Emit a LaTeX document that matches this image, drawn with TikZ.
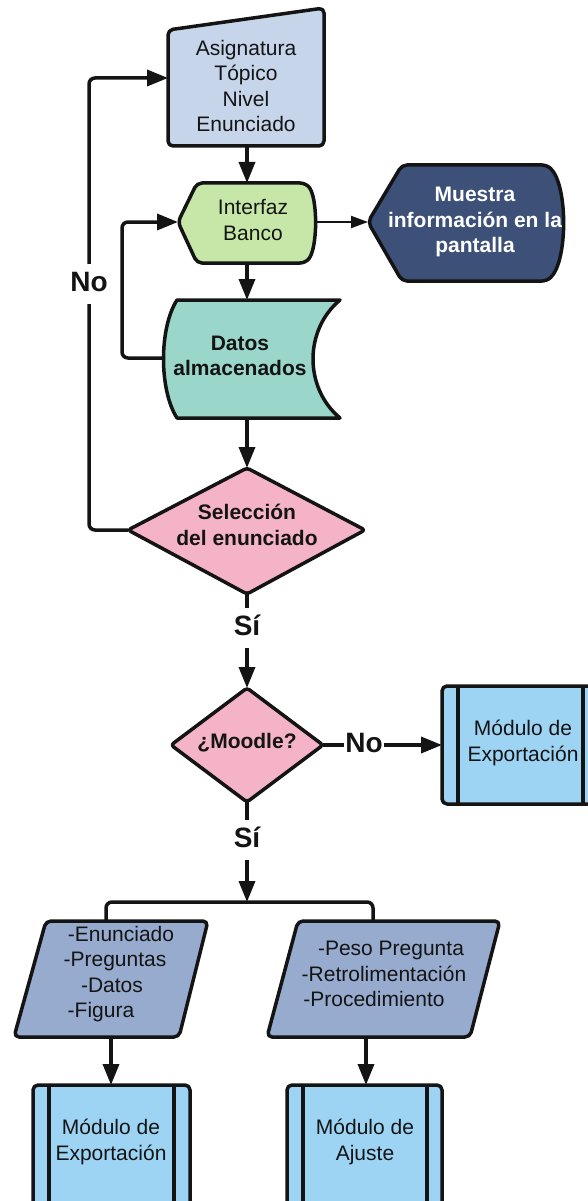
\documentclass[tikz,border=0pt]{standalone}
\usepackage{fontspec}
\setmainfont{Liberation Sans}
\usetikzlibrary{arrows.meta}

\definecolor{inputfill}{HTML}{C7D5EA}
\definecolor{intfill}{HTML}{C6E7A7}
\definecolor{showfill}{HTML}{3D5178}
\definecolor{datafill}{HTML}{9AD6CA}
\definecolor{decfill}{HTML}{F4B3C7}
\definecolor{modfill}{HTML}{9DD3F3}
\definecolor{parfill}{HTML}{97ABCF}
\definecolor{ink}{HTML}{141414}

\tikzset{
  shp/.style={draw=ink, line width=3.5pt, line join=round, rounded corners=5pt},
  conn/.style={draw=ink, line width=3.5pt, rounded corners=6pt},
  arr/.style={conn, -{Triangle[length=21pt,width=16pt]}},
  thinarr/.style={draw=ink, line width=2pt, -{Triangle[length=17pt,width=12pt]}},
  txt/.style={font=\fontsize{21}{25.6}\selectfont, align=center, inner sep=0pt, text=ink},
  btxt/.style={txt, font=\fontsize{21}{25.6}\selectfont\bfseries},
  lbl/.style={font=\fontsize{28}{30}\selectfont\bfseries, text=ink, fill=white,
    inner xsep=1pt, inner ysep=3pt, text height=24pt, text depth=10pt, anchor=base},
}

\begin{document}
\begin{tikzpicture}[x=1pt, y=-1pt]
\useasboundingbox (0,0) rectangle (588,1201);
\clip (0,0) rectangle (588,1201);

% ---- input: subject, topic, level, statement
\draw[shp, fill=inputfill] (168,30) -- (324,8) -- (324,146) -- (168,146) -- cycle;
\node[txt] (in) at (246,86) {Asignatura\\Tópico\\Nivel\\Enunciado};
\coordinate (in-w) at (168,78);
\coordinate (in-s) at (247,146);

% ---- bank interface (display)
\draw[shp, fill=intfill] (178,222) -- (197,183) -- (305,183)
  .. controls (318,196) and (318,249) .. (305,263) -- (197,263) -- cycle;
\node[txt] (int) at (253,220) {Interfaz\\Banco};
\coordinate (int-n) at (247,183);
\coordinate (int-s) at (247,263);
\coordinate (int-w) at (178,222);
\coordinate (int-e) at (316,222);

% ---- on-screen information (display)
\draw[shp, fill=showfill] (368,222) -- (402,165) -- (547,165)
  .. controls (568,185) and (568,261) .. (547,281) -- (402,281) -- cycle;
\node[btxt, text=white] (mu) at (475,222) {Muestra\\información en la\hspace*{16pt}\\pantalla};
\coordinate (mu-w) at (368,222);

% ---- stored data
\draw[shp, sharp corners, fill=datafill] (177,300) -- (340,300)
  .. controls (304,330) and (304,388) .. (340,418) -- (177,418)
  .. controls (159,390) and (159,328) .. (177,300) -- cycle;
\node[btxt] (da) at (240,356) {Datos\\almacenados};
\coordinate (da-n) at (247,300);
\coordinate (da-s) at (247,418);
\coordinate (da-w) at (163,358);

% ---- decision: statement selection
\draw[shp, rounded corners=3pt, fill=decfill] (247,468) -- (365,530) -- (247,594) -- (128,530) -- cycle;
\node[btxt] (sel) at (247,525) {Selección\\del enunciado};
\coordinate (sel-n) at (247,468);
\coordinate (sel-s) at (247,594);
\coordinate (sel-w) at (128,530);

% ---- decision: Moodle?
\draw[shp, rounded corners=3pt, fill=decfill] (247,688) -- (323,745) -- (247,802) -- (171,745) -- cycle;
\node[btxt] (mood) at (247,743) {¿Moodle?};
\coordinate (mood-n) at (247,688);
\coordinate (mood-s) at (247,802);
\coordinate (mood-e) at (323,745);

% ---- export module (right)
\draw[shp, fill=modfill] (442,686) rectangle (604,804);
\draw[line width=3.5pt, draw=ink] (458,686) -- (458,804) (583,686) -- (583,804);
\node[txt] (modR) at (523,743) {Módulo de\\Exportación};
\coordinate (modR-w) at (442,745);

% ---- branch point
\coordinate (split) at (247,902);

% ---- statement data (input/output)
\draw[shp, fill=parfill] (46,921) -- (208,921) -- (179,1037) -- (14,1037) -- cycle;
\node[txt] (parL) at (112,974) {\hspace*{18pt}-Enunciado\\\hspace*{6pt}-Preguntas\\-Datos\hspace*{6pt}\\-Figura\hspace*{22pt}};
\coordinate (parL-n) at (106,921);
\coordinate (parL-s) at (111,1037);

% ---- adjustment data (input/output)
\draw[shp, fill=parfill] (298,921) -- (500,921) -- (470,1037) -- (267,1037) -- cycle;
\node[txt] (parR) at (384,974) {\hspace*{14pt}-Peso Pregunta\\-Retrolimentación\\-Procedimiento\hspace*{20pt}};
\coordinate (parR-n) at (373,921);
\coordinate (parR-s) at (366,1037);

% ---- export module (bottom left)
\draw[shp, fill=modfill] (33,1085) rectangle (190,1230);
\draw[line width=3.5pt, draw=ink] (49,1085) -- (49,1230) (174,1085) -- (174,1230);
\node[txt] (modL) at (111,1142) {Módulo de\\Exportación};
\coordinate (modL-n) at (111,1085);

% ---- adjustment module (bottom right)
\draw[shp, fill=modfill] (287,1085) rectangle (442,1230);
\draw[line width=3.5pt, draw=ink] (303,1085) -- (303,1230) (427,1085) -- (427,1230);
\node[txt] (modA) at (365,1142) {Módulo de\\Ajuste};
\coordinate (modA-n) at (366,1085);

% ---- connectors
\coordinate (loop1) at (122,358);
\coordinate (loop2) at (89,530);
\draw[arr] (in-s) -- (int-n);
\draw[thinarr] (int-e) -- (mu-w);
\draw[arr] (int-s) -- (da-n);
\draw[arr] (da-w) -- (loop1) |- (int-w);
\draw[arr] (da-s) -- (sel-n);
\draw[arr] (sel-w) -- (loop2) |- (in-w);
\node[lbl] (no1) at (89,291) {No};
\draw[arr] (sel-s) -- (mood-n);
\node[lbl] (si1) at (247,635) {Sí};
\draw[arr] (mood-e) -- (modR-w);
\node[lbl] (no2) at (364,752) {No};
\draw[arr] (mood-s) -- (split);
\node[lbl] (si2) at (247,847) {Sí};
\draw[conn] (parL-n) |- (split) -| (parR-n);
\draw[arr] (parL-s) -- (modL-n);
\draw[arr] (parR-s) -- (modA-n);
\end{tikzpicture}
\end{document}
